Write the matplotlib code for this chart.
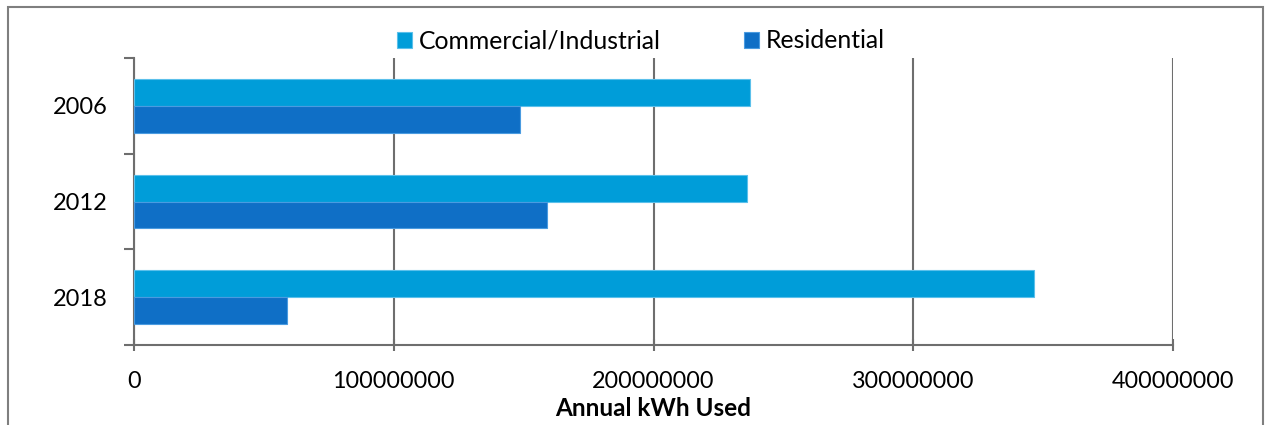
import matplotlib.pyplot as plt
import numpy as np
from matplotlib.patches import Rectangle

# Annual electricity use by sector
years = ["2006", "2012", "2018"]
commercial = [237200000, 236000000, 346500000]
residential = [148600000, 158900000, 58900000]
series_names = ["Commercial/Industrial", "Residential"]
x_ticks = [0, 100000000, 200000000, 300000000, 400000000]

col_comm = "#009DD9"
col_res = "#0F6FC6"
grey = "#6E6E6E"

plt.rcParams["font.family"] = ["Lato", "DejaVu Sans"]

fig = plt.figure(figsize=(12.65, 4.25), dpi=100)
ax = fig.add_axes([134 / 1265, 80 / 425, (1173 - 134) / 1265, (345 - 58) / 425])

y = np.arange(len(years))
h = 0.28
ax.barh(y - h / 2, commercial, height=h, color=col_comm, edgecolor="#5BC0EB",
        linewidth=0.8, label=series_names[0], zorder=3)
ax.barh(y + h / 2, residential, height=h, color=col_res, edgecolor="#4A9BE0",
        linewidth=0.8, label=series_names[1], zorder=3)

ax.set_ylim(2.5, -0.5)
ax.set_xlim(0, 400000000)
ax.set_xticks(x_ticks)
ax.set_xticklabels([str(v) for v in x_ticks], fontsize=16.8)
ax.set_yticks(y)
ax.set_yticklabels(years, fontsize=17)
ax.set_yticks(np.arange(-0.5, len(years)), minor=True)
ax.tick_params(axis="y", which="major", length=0, pad=19)
ax.tick_params(axis="y", which="minor", length=7, width=1.5, color=grey, direction="out")
ax.tick_params(axis="x", length=9, width=1.5, color=grey, direction="inout", pad=14)

ax.grid(axis="x", color=grey, linewidth=1.5, zorder=1)
for side in ["top", "right"]:
    ax.spines[side].set_visible(False)
ax.spines["left"].set_color(grey)
ax.spines["left"].set_linewidth(1.5)
ax.spines["bottom"].set_color(grey)
ax.spines["bottom"].set_linewidth(1.5)

ax.set_xlabel("Annual kWh Used", fontsize=17.5, fontweight="bold", labelpad=4)

fig.legend(loc="center", bbox_to_anchor=(641 / 1265, 1 - 41 / 425), ncol=2,
           frameon=False, fontsize=17.8, handlelength=0.6, handleheight=0.6,
           handletextpad=0.25, columnspacing=3.4)

# outer chart frame
fig.add_artist(Rectangle((8 / 1265, -0.05), (1263 - 8) / 1265, 1.05 - 7 / 425,
                         transform=fig.transFigure, fill=False,
                         edgecolor="#7F7F7F", linewidth=1.5))

fig.savefig("out.png", dpi=100)
